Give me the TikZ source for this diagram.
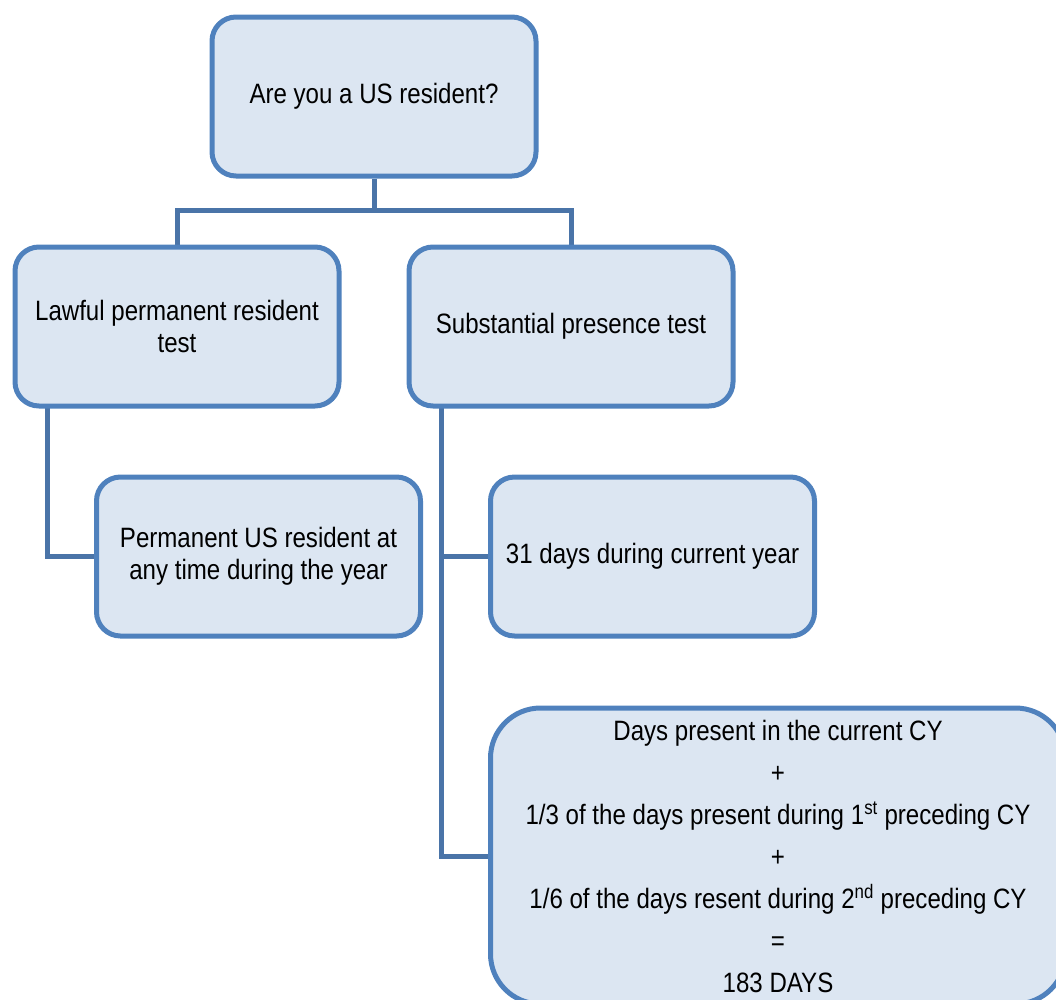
\documentclass[tikz,border=0pt]{standalone}
\usepackage{fontspec}
\setmainfont{Liberation Sans}[FakeStretch=0.86]
\usetikzlibrary{backgrounds}
\definecolor{boxfill}{HTML}{DCE6F2}
\definecolor{boxline}{HTML}{4F81BD}
\definecolor{linkline}{HTML}{4A74A8}
\tikzset{
  box/.style={draw=boxline, fill=boxfill, line width=5pt, rounded corners=24pt,
    minimum width=324pt, minimum height=159pt, inner sep=0pt,
    align=center, font=\fontsize{28}{32}\selectfont},
  bigbox/.style={draw=boxline, fill=boxfill, line width=5pt, rounded corners=50pt,
    minimum width=575pt, minimum height=296pt, inner sep=0pt,
    align=center, font=\fontsize{28}{32}\selectfont},
  link/.style={draw=linkline, line width=5pt}
}
\begin{document}
\begin{tikzpicture}[x=1pt,y=-1pt]
  \useasboundingbox (0,0) rectangle (1056,999);
  \clip (0,0) rectangle (1056,999);

  % question and the two tests
  \node[box] (top) at (374,96.5) {Are you a US resident?};
  \node[box] (lpr) at (177,326.5) {Lawful permanent resident\\test};
  \node[box] (spt) at (571,326.5) {Substantial presence test};

  % criteria
  \node[box] (perm) at (258.5,556.5) {Permanent US resident at\\any time during the year};
  \node[box] (days) at (652.5,556.5) {31 days during current year};
  \node[bigbox] (formula) at (778,856) {%
    Days present in the current CY\\[10pt]
    +\\[10pt]
    1/3 of the days present during 1\textsuperscript{st} preceding CY\\[10pt]
    +\\[10pt]
    1/6 of the days resent during 2\textsuperscript{nd} preceding CY\\[10pt]
    =\\[10pt]
    183 DAYS};

  % connectors
  \coordinate (split) at (374,210);
  \coordinate (lprstem) at (47,406);
  \coordinate (sptstem) at (441,406);
  \begin{scope}[on background layer]
    \draw[link] (top.south) -- (split) -| (lpr.north);
    \draw[link] (split) -| (spt.north);
    \draw[link] (lprstem) |- (perm.west);
    \draw[link] (sptstem) |- (days.west);
    \draw[link] (sptstem) |- (formula.west);
  \end{scope}
\end{tikzpicture}
\end{document}
